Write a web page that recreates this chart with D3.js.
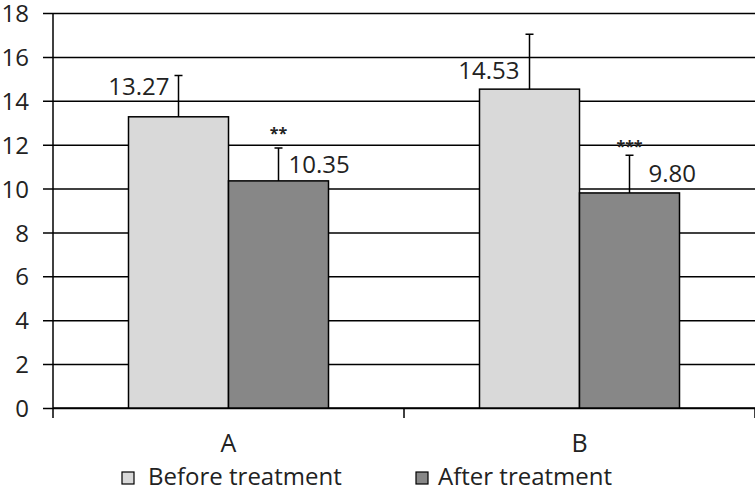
<!DOCTYPE html>
<html>
<head>
<meta charset="utf-8">
<script src="https://cdn.jsdelivr.net/npm/d3@7"></script>
<style>
  body { margin: 0; background: #fff; }
  text { font-family: "Open Sans", sans-serif; fill: #222; }
</style>
</head>
<body>
<svg id="chart" width="755" height="491"></svg>
<script>
// data
let groups = ["A", "B"],
    series = ["Before treatment", "After treatment"],
    colors = ["#d9d9d9", "#878787"],
    before = [13.27, 14.53],
    after = [10.35, 9.80],
    beforeErr = [1.88, 2.5],
    afterErr = [1.5, 1.72],
    stars = ["**", "***"],
    yTicks = [0, 2, 4, 6, 8, 10, 12, 14, 16, 18];

// label nudges (px), in the order A-before, A-after, B-before, B-after
let labelDx = [-9, 10, -10, 19],
    labelDy = [-22, -8, -10, -11],
    starDy = [-9, -3];

let margin = {top: 13, right: 0, bottom: 83, left: 53},
    width = 755 - margin.left - margin.right,
    height = 491 - margin.top - margin.bottom;

let svg = d3.select("#chart");
let g = svg.append("g")
  .attr("transform", "translate(" + margin.left + "," + margin.top + ")");

let x = d3.scaleBand().domain(groups).range([0, width]);
let xs = d3.scaleBand().domain(series).range([x.bandwidth() / 2 - 100, x.bandwidth() / 2 + 100]);
let y = d3.scaleLinear().domain([0, 18]).range([height, 0]);

// gridlines + y axis
g.append("g")
  .call(d3.axisLeft(y).tickValues(yTicks).tickSize(-width).tickSizeOuter(0).tickPadding(24))
  .call(a => a.select(".domain").remove())
  .call(a => a.selectAll("line").attr("x1", -10).attr("stroke", "#000").attr("stroke-width", 1.5))
  .call(a => a.selectAll("text").attr("font-size", 24).attr("dy", "0.36em"));

g.append("line").attr("x1", 0).attr("x2", 0).attr("y1", 0).attr("y2", height + 10)
  .attr("stroke", "#000").attr("stroke-width", 1.5);

// x axis
g.append("line").attr("x1", 0).attr("x2", width).attr("y1", height).attr("y2", height)
  .attr("stroke", "#000").attr("stroke-width", 1.5);
g.selectAll(".xtick").data(groups.slice(1).concat(["end"])).enter().append("line")
  .attr("x1", d => d === "end" ? width : x(d)).attr("x2", d => d === "end" ? width : x(d))
  .attr("y1", height).attr("y2", height + 10)
  .attr("stroke", "#000").attr("stroke-width", 1.5);
g.selectAll(".xlab").data(groups).enter().append("text")
  .attr("x", d => x(d) + x.bandwidth() / 2).attr("y", height + 44)
  .attr("text-anchor", "middle").attr("font-size", 25).text(d => d);

let rows = [];
groups.forEach((gr, i) => {
  rows.push({g: gr, s: 0, v: before[i], e: beforeErr[i]});
  rows.push({g: gr, s: 1, v: after[i], e: afterErr[i], star: stars[i], k: i});
});

let cx = d => x(d.g) + xs(series[d.s]) + xs.bandwidth() / 2;

// bars
g.selectAll(".bar").data(rows).enter().append("rect")
  .attr("x", d => x(d.g) + xs(series[d.s]))
  .attr("y", d => y(d.v))
  .attr("width", xs.bandwidth())
  .attr("height", d => height - y(d.v))
  .attr("fill", d => colors[d.s])
  .attr("stroke", "#000").attr("stroke-width", 1.5);

// error bars (upper only)
g.selectAll(".err").data(rows).enter().append("path")
  .attr("d", d => "M" + cx(d) + "," + y(d.v) + "V" + y(d.v + d.e) +
                  "M" + (cx(d) - 4) + "," + y(d.v + d.e) + "H" + (cx(d) + 4))
  .attr("fill", "none").attr("stroke", "#000").attr("stroke-width", 1.5);

// value labels
g.selectAll(".val").data(rows).enter().append("text")
  .attr("x", (d, i) => cx(d) + labelDx[i])
  .attr("y", (d, i) => y(d.v) + labelDy[i])
  .attr("text-anchor", d => d.s === 0 ? "end" : "start")
  .attr("font-size", 24)
  .text(d => d.v.toFixed(2));

// significance stars
g.selectAll(".star").data(rows.filter(d => d.star)).enter().append("text")
  .attr("x", cx)
  .attr("y", d => y(d.v + d.e) + starDy[d.k])
  .attr("text-anchor", "middle")
  .attr("font-size", 16).style("font-weight", "bold")
  .text(d => d.star);

// legend
let leg = svg.append("g").attr("transform", "translate(122,472)");
let li = leg.selectAll("g").data(series).enter().append("g")
  .attr("transform", (d, i) => "translate(" + (i * 294) + ",0)");
li.append("rect").attr("width", 12).attr("height", 12)
  .attr("fill", (d, i) => colors[i]).attr("stroke", "#000").attr("stroke-width", 1.2);
li.append("text").attr("x", (d, i) => i === 0 ? 26 : 22).attr("y", 13).attr("font-size", 24).text(d => d);
</script>
</body>
</html>
